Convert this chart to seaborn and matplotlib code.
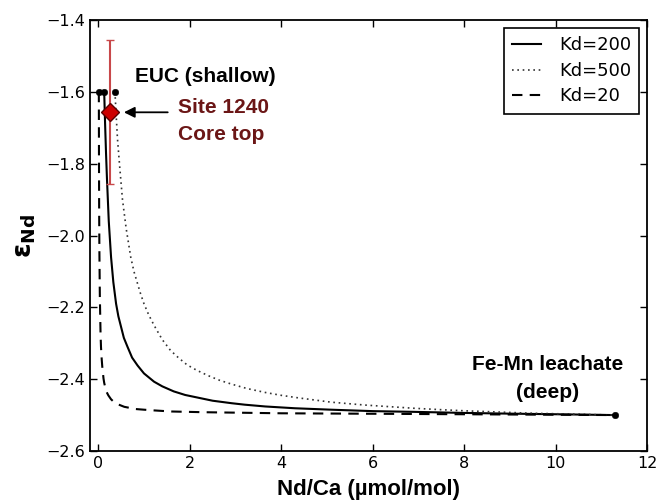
import numpy as np
import pandas as pd
import matplotlib
matplotlib.use('Agg')
import matplotlib.pyplot as plt
import seaborn as sns

# mixing curves (Nd/Ca, eps Nd)
kd200_x = [0.13, 0.15, 0.17, 0.19, 0.23, 0.28, 0.33, 0.39, 0.44, 0.49, 0.56, 0.64, 0.74, 0.86, 1.0, 1.22, 1.4,
           1.65, 1.9, 2.2, 2.5, 2.92, 3.2, 3.65, 4.3, 5.09, 6.0, 6.9, 8.0, 9.0, 10.2, 11.3]
kd200_y = [-1.60, -1.69, -1.77, -1.84, -1.96, -2.06, -2.13, -2.19, -2.225, -2.25, -2.285, -2.31, -2.34, -2.362, -2.384,
           -2.407, -2.42, -2.434, -2.444, -2.452, -2.46, -2.467, -2.471, -2.476, -2.481, -2.485, -2.489, -2.491, -2.494,
           -2.496, -2.498, -2.50]

kd500_x = [0.365, 0.39, 0.42, 0.47, 0.53, 0.61, 0.71, 0.78, 0.85, 0.92, 1.0, 1.1, 1.22, 1.4, 1.58, 1.75, 1.94,
           2.15, 2.4, 2.65, 2.92, 3.25, 3.65, 4.0, 4.37, 5.09, 5.82, 6.9, 7.5, 8.0, 9.5, 10.3, 11.3]
kd500_y = [-1.60, -1.66, -1.73, -1.81, -1.90, -1.98, -2.06, -2.10, -2.13, -2.16, -2.19, -2.22, -2.25, -2.29, -2.32,
           -2.34, -2.36, -2.375, -2.39, -2.403, -2.414, -2.426, -2.437, -2.445, -2.452, -2.464, -2.472, -2.481, -2.485,
           -2.488, -2.495, -2.497, -2.50]

kd20_x = [0.013, 0.016, 0.02, 0.025, 0.035, 0.05, 0.06, 0.076, 0.088, 0.10, 0.115, 0.13, 0.155, 0.18, 0.22, 0.28,
          0.33, 0.40, 0.47, 0.57, 0.65, 0.8, 1.0, 1.22, 1.6, 2.3, 4.0, 7.0, 11.3]
kd20_y = [-1.60, -1.78, -1.93, -2.04, -2.17, -2.27, -2.31, -2.345, -2.365, -2.38, -2.398, -2.41, -2.424, -2.435,
          -2.445, -2.456, -2.462, -2.468, -2.472, -2.477, -2.479, -2.483, -2.485, -2.487, -2.49, -2.492, -2.495,
          -2.497, -2.50]

# end members
end_x = [0.013, 0.13, 0.365, 11.3]
end_y = [-1.6, -1.6, -1.6, -2.5]

# Site 1240 core top
site_x = [0.26]
site_y = [-1.657]
site_err = [0.2]

plt.rcParams['font.family'] = ['DejaVu Sans']
plt.rcParams['xtick.direction'] = 'in'
plt.rcParams['ytick.direction'] = 'in'
plt.rcParams['xtick.top'] = True
plt.rcParams['ytick.right'] = True

fig = plt.figure(figsize=(6.57, 5), dpi=100)
ax = fig.add_axes([0.137, 0.098, 0.848, 0.862])

sns.lineplot(x=kd200_x, y=kd200_y, ax=ax, color='black', lw=1.5, sort=False, label='Kd=200')
sns.lineplot(x=kd500_x, y=kd500_y, ax=ax, color='#333333', lw=1.2, dashes=False, sort=False, label='Kd=500')
sns.lineplot(x=kd20_x, y=kd20_y, ax=ax, color='black', lw=1.5, sort=False, label='Kd=20')
lines = ax.get_lines()
lines[1].set_linestyle((0, (1, 2.2)))
lines[2].set_linestyle((0, (5, 3.5)))
sns.scatterplot(x=end_x, y=end_y, ax=ax, color='black', s=22, edgecolor='black', zorder=5)

ax.errorbar(site_x, site_y, yerr=site_err, fmt='none', ecolor='#c8484a', elinewidth=1.5, capsize=3, zorder=6)
ax.plot(site_x, site_y, marker='D', ms=9, color='#cc0000', mec='#5a0000', mew=1, ls='none', zorder=7)

ax.annotate('', xy=(0.5, -1.657), xytext=(1.58, -1.657),
            arrowprops=dict(arrowstyle='-|>', color='black', lw=1.3, mutation_scale=16))

bold = dict(family='Liberation Sans', fontweight='bold', fontsize=15)
ax.text(0.81, -1.558, 'EUC (shallow)', ha='left', va='center', color='black', **bold)
ax.text(1.75, -1.645, 'Site 1240', ha='left', va='center', color='#6b1616', **bold)
ax.text(1.75, -1.72, 'Core top', ha='left', va='center', color='#6b1616', **bold)
ax.text(9.82, -2.36, 'Fe-Mn leachate', ha='center', va='center', color='black', **bold)
ax.text(9.82, -2.436, '(deep)', ha='center', va='center', color='black', **bold)

ax.set_xlim(-0.18, 12)
ax.set_ylim(-2.6, -1.4)
ax.set_xticks([0, 2, 4, 6, 8, 10, 12])
ax.set_yticks([-2.6, -2.4, -2.2, -2.0, -1.8, -1.6, -1.4])
ax.set_yticklabels(['\u22122.6', '\u22122.4', '\u22122.2', '\u22122.0', '\u22121.8', '\u22121.6', '\u22121.4'])
ax.tick_params(labelsize=11.5, length=5, width=1)
for s in ax.spines.values():
    s.set_linewidth(1.3)

ax.set_xlabel('Nd/Ca (\u00b5mol/mol)', family='Liberation Sans', fontweight='bold', fontsize=16, labelpad=6)
ax.set_ylabel(r'$\mathbf{\varepsilon}_{\mathbf{Nd}}$', fontsize=19, labelpad=6)

leg = ax.legend(loc='upper right', fontsize=13, frameon=True, fancybox=False,
                edgecolor='black', framealpha=1, borderpad=0.45, labelspacing=0.42,
                handlelength=1.6, handletextpad=1.0, borderaxespad=0.45)
leg.get_frame().set_linewidth(1.2)

fig.savefig('out.png', dpi=100)
